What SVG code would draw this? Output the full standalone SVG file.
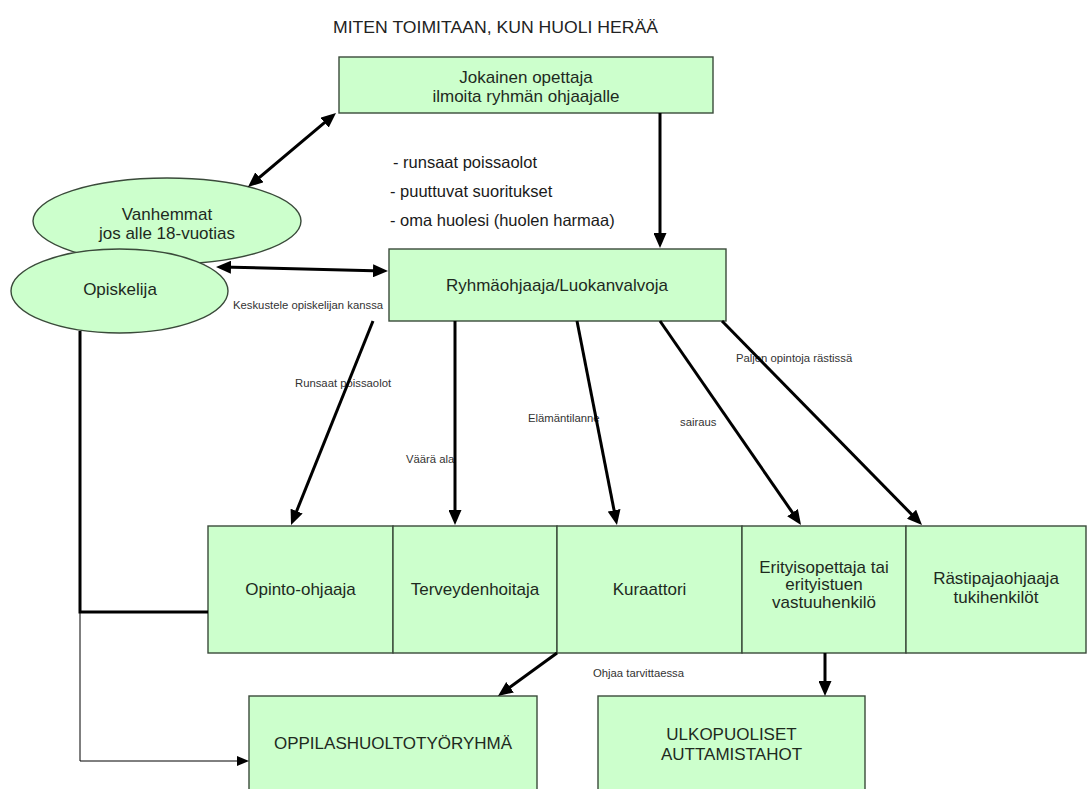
<svg xmlns="http://www.w3.org/2000/svg" width="1088" height="789" viewBox="0 0 1088 789">
<style>
.box{fill:#ccffcc;stroke:#3a4a3a;stroke-width:1.4}
.t{font-family:"Liberation Sans",Arial,sans-serif;fill:#1e2a1e;text-anchor:middle;font-size:17px}
.lbl{font-family:"Liberation Sans",Arial,sans-serif;fill:#333;font-size:11.3px}
.bul{font-family:"Liberation Sans",Arial,sans-serif;fill:#1a1a1a;font-size:16.5px}
.c{stroke:#000;stroke-width:3;fill:none}
.thin{stroke:#000;stroke-width:1;fill:none}
</style>
<defs>
<marker id="ah" markerUnits="userSpaceOnUse" markerWidth="15" markerHeight="13" refX="10" refY="6.5" orient="auto-start-reverse">
<path d="M0,0 L15,6.5 L0,13 z" fill="#000"/>
</marker>
<marker id="ahs" markerUnits="userSpaceOnUse" markerWidth="12" markerHeight="10" refX="8" refY="5" orient="auto">
<path d="M0,0 L12,5 L0,10 z" fill="#000"/>
</marker>
</defs>
<rect width="1088" height="789" fill="#fff"/>
<text x="333" y="33" font-family="Liberation Sans,Arial,sans-serif" font-size="17" fill="#222" textLength="325" lengthAdjust="spacingAndGlyphs">MITEN TOIMITAAN, KUN HUOLI HERÄÄ</text>

<g id="top">
<rect class="box" x="339" y="57" width="374" height="56"/>
<text class="t" x="526" y="83" font-size="16.5">Jokainen opettaja</text>
<text class="t" x="526" y="102" font-size="16.5">ilmoita ryhmän ohjaajalle</text>
</g>

<g id="bullets">
<text class="bul" x="393" y="168">- runsaat poissaolot</text>
<text class="bul" x="390" y="197">- puuttuvat suoritukset</text>
<text class="bul" x="390" y="226">- oma huolesi (huolen harmaa)</text>
</g>

<g id="vanhemmat">
<ellipse class="box" cx="167" cy="221" rx="134" ry="43"/>
<text class="t" x="167" y="220" font-size="16.5">Vanhemmat</text>
<text class="t" x="167" y="239" font-size="16.5">jos alle 18-vuotias</text>
</g>

<g id="opiskelija">
<ellipse class="box" cx="119.5" cy="291" rx="108.5" ry="42"/>
<text class="t" x="120" y="295">Opiskelija</text>
</g>

<g id="ryhma">
<rect class="box" x="389" y="249" width="337" height="72"/>
<text class="t" x="557" y="291">Ryhmäohjaaja/Luokanvalvoja</text>
</g>

<g id="opinto">
<rect class="box" x="208" y="526" width="185" height="127"/>
<text class="t" x="300.5" y="595">Opinto-ohjaaja</text>
</g>
<g id="terveys">
<rect class="box" x="393" y="526" width="164" height="127"/>
<text class="t" x="475" y="595">Terveydenhoitaja</text>
</g>
<g id="kuraattori">
<rect class="box" x="557" y="526" width="185" height="127"/>
<text class="t" x="649.5" y="595">Kuraattori</text>
</g>
<g id="erityis">
<rect class="box" x="742" y="526" width="164" height="127"/>
<text class="t" x="824" y="573">Erityisopettaja tai</text>
<text class="t" x="824" y="590">erityistuen</text>
<text class="t" x="824" y="608">vastuuhenkilö</text>
</g>
<g id="rasti">
<rect class="box" x="906" y="526" width="180" height="127"/>
<text class="t" x="996" y="584">Rästipajaohjaaja</text>
<text class="t" x="996" y="603">tukihenkilöt</text>
</g>

<g id="oppilas">
<rect class="box" x="249" y="696" width="288" height="100"/>
<text class="t" x="393" y="749" font-size="17.5">OPPILASHUOLTOTYÖRYHMÄ</text>
</g>
<g id="ulko">
<rect class="box" x="598" y="696" width="267" height="100"/>
<text class="t" x="731.5" y="740" font-size="17.5">ULKOPUOLISET</text>
<text class="t" x="731.5" y="760" font-size="17.5">AUTTAMISTAHOT</text>
</g>

<g id="labels">
<text class="lbl" x="233" y="309">Keskustele opiskelijan kanssa</text>
<text class="lbl" x="295" y="387">Runsaat poissaolot</text>
<text class="lbl" x="406" y="463">Väärä ala</text>
<text class="lbl" x="528" y="422">Elämäntilanne</text>
<text class="lbl" x="680" y="426">sairaus</text>
<text class="lbl" x="736" y="362">Paljen opintoja rästissä</text>
<text class="lbl" x="593" y="677">Ohjaa tarvittaessa</text>
</g>

<g id="connectors">
<line class="c" x1="251.8" y1="183.8" x2="332.2" y2="116.2" marker-start="url(#ah)" marker-end="url(#ah)"/>
<line class="c" x1="221" y1="267" x2="383" y2="271" marker-start="url(#ah)" marker-end="url(#ah)"/>
<line class="c" x1="660" y1="113" x2="660" y2="243" marker-end="url(#ah)"/>
<line class="c" x1="373" y1="321" x2="292.9" y2="520.4" marker-end="url(#ah)"/>
<line class="c" x1="455" y1="321" x2="455" y2="520" marker-end="url(#ah)"/>
<line class="c" x1="577" y1="321" x2="616" y2="520.1" marker-end="url(#ah)"/>
<line class="c" x1="660" y1="321" x2="798.2" y2="520.9" marker-end="url(#ah)"/>
<line class="c" x1="722" y1="321" x2="918.5" y2="521.4" marker-end="url(#ah)"/>
<line class="c" x1="557" y1="653" x2="502" y2="693.1" marker-end="url(#ah)"/>
<line class="c" x1="825" y1="653" x2="825" y2="691" marker-end="url(#ah)"/>
<path class="c" d="M80,331 V612 H208"/>
<path class="thin" d="M80,612 V761 H245" marker-end="url(#ahs)"/>
</g>
</svg>
